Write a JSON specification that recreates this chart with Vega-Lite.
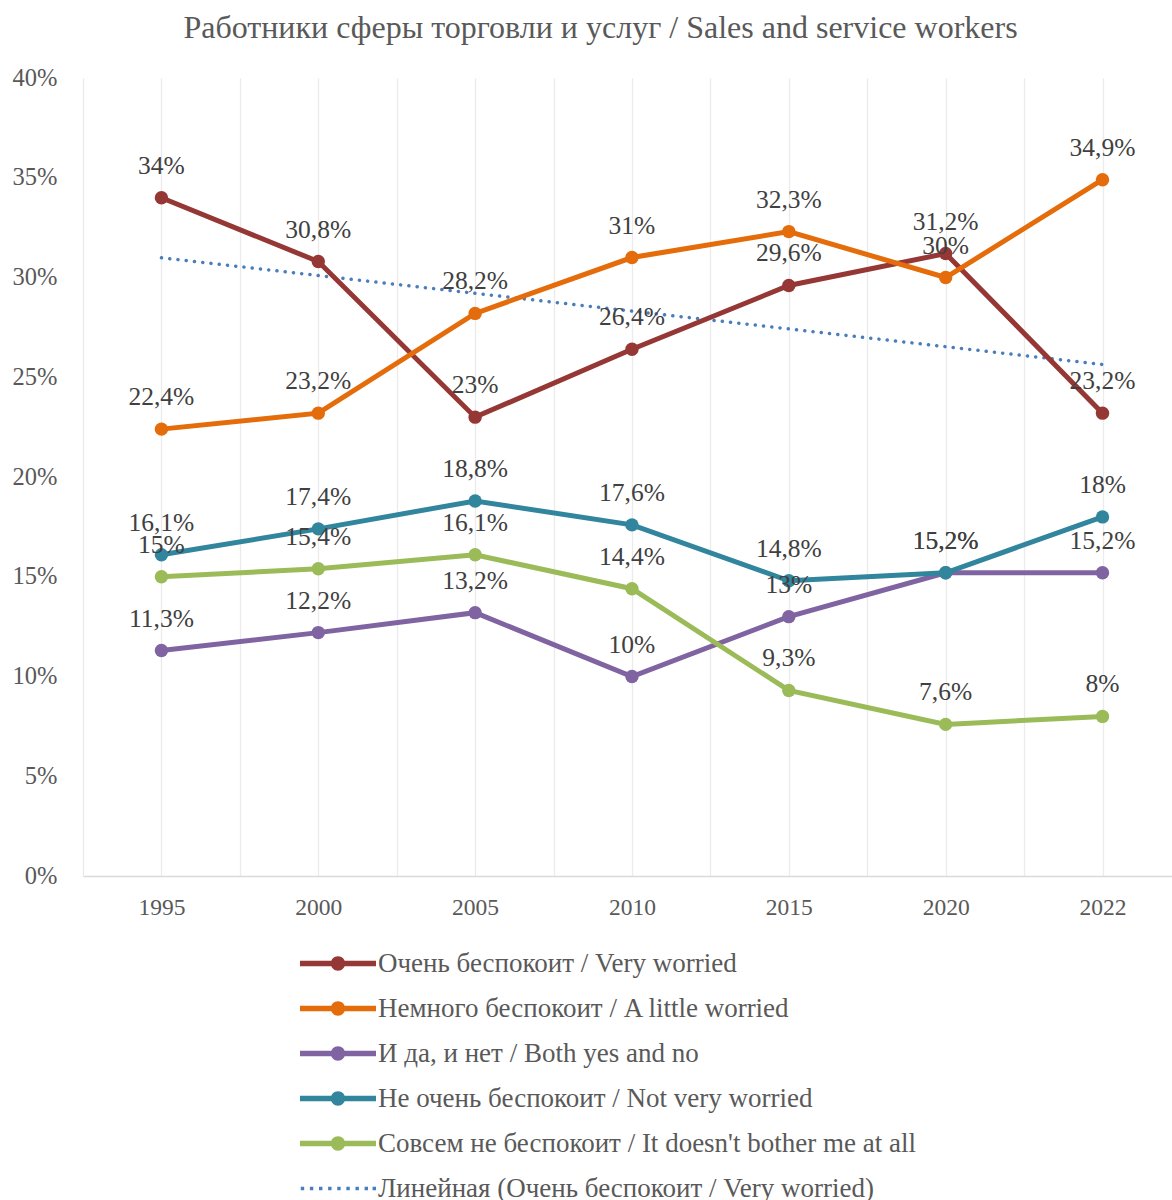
{
  "$schema": "https://vega.github.io/schema/vega-lite/v6.json",
  "autosize": "none",
  "width": 1089,
  "height": 798,
  "padding": {"left": 83, "top": 78, "right": 0, "bottom": 324},
  "background": "white",
  "config": {
    "locale": {"number": {"decimal": ",", "thousands": " ", "grouping": [3], "currency": ["", ""]}},
    "view": {"stroke": null},
    "font": "Liberation Serif"
  },
  "title": {
    "text": "Работники сферы торговли и услуг / Sales and service workers",
    "font": "Liberation Serif",
    "fontSize": 32,
    "fontWeight": "normal",
    "color": "#595959",
    "anchor": "middle",
    "frame": "group",
    "dx": -27,
    "offset": 20
  },
  "datasets": {
    "main": [
      {"year": "1995", "i": 0, "series": "Очень беспокоит / Very worried", "value": 0.34},
      {"year": "2000", "i": 1, "series": "Очень беспокоит / Very worried", "value": 0.308},
      {"year": "2005", "i": 2, "series": "Очень беспокоит / Very worried", "value": 0.23},
      {"year": "2010", "i": 3, "series": "Очень беспокоит / Very worried", "value": 0.264},
      {"year": "2015", "i": 4, "series": "Очень беспокоит / Very worried", "value": 0.296},
      {"year": "2020", "i": 5, "series": "Очень беспокоит / Very worried", "value": 0.312},
      {"year": "2022", "i": 6, "series": "Очень беспокоит / Very worried", "value": 0.232},
      {"year": "1995", "i": 0, "series": "Немного беспокоит / A little worried", "value": 0.224},
      {"year": "2000", "i": 1, "series": "Немного беспокоит / A little worried", "value": 0.232},
      {"year": "2005", "i": 2, "series": "Немного беспокоит / A little worried", "value": 0.282},
      {"year": "2010", "i": 3, "series": "Немного беспокоит / A little worried", "value": 0.31},
      {"year": "2015", "i": 4, "series": "Немного беспокоит / A little worried", "value": 0.323},
      {"year": "2020", "i": 5, "series": "Немного беспокоит / A little worried", "value": 0.30},
      {"year": "2022", "i": 6, "series": "Немного беспокоит / A little worried", "value": 0.349},
      {"year": "1995", "i": 0, "series": "И да, и нет / Both yes and no", "value": 0.113},
      {"year": "2000", "i": 1, "series": "И да, и нет / Both yes and no", "value": 0.122},
      {"year": "2005", "i": 2, "series": "И да, и нет / Both yes and no", "value": 0.132},
      {"year": "2010", "i": 3, "series": "И да, и нет / Both yes and no", "value": 0.10},
      {"year": "2015", "i": 4, "series": "И да, и нет / Both yes and no", "value": 0.13},
      {"year": "2020", "i": 5, "series": "И да, и нет / Both yes and no", "value": 0.152},
      {"year": "2022", "i": 6, "series": "И да, и нет / Both yes and no", "value": 0.152},
      {"year": "1995", "i": 0, "series": "Не очень беспокоит / Not very worried", "value": 0.161},
      {"year": "2000", "i": 1, "series": "Не очень беспокоит / Not very worried", "value": 0.174},
      {"year": "2005", "i": 2, "series": "Не очень беспокоит / Not very worried", "value": 0.188},
      {"year": "2010", "i": 3, "series": "Не очень беспокоит / Not very worried", "value": 0.176},
      {"year": "2015", "i": 4, "series": "Не очень беспокоит / Not very worried", "value": 0.148},
      {"year": "2020", "i": 5, "series": "Не очень беспокоит / Not very worried", "value": 0.152},
      {"year": "2022", "i": 6, "series": "Не очень беспокоит / Not very worried", "value": 0.18},
      {"year": "1995", "i": 0, "series": "Совсем не беспокоит / It doesn't bother me at all", "value": 0.15},
      {"year": "2000", "i": 1, "series": "Совсем не беспокоит / It doesn't bother me at all", "value": 0.154},
      {"year": "2005", "i": 2, "series": "Совсем не беспокоит / It doesn't bother me at all", "value": 0.161},
      {"year": "2010", "i": 3, "series": "Совсем не беспокоит / It doesn't bother me at all", "value": 0.144},
      {"year": "2015", "i": 4, "series": "Совсем не беспокоит / It doesn't bother me at all", "value": 0.093},
      {"year": "2020", "i": 5, "series": "Совсем не беспокоит / It doesn't bother me at all", "value": 0.076},
      {"year": "2022", "i": 6, "series": "Совсем не беспокоит / It doesn't bother me at all", "value": 0.08}
    ],
    "trend": [
      {"year": "1995", "i": 0, "series": "Линейная (Очень беспокоит / Very worried)", "value": 0.3099},
      {"year": "2022", "i": 6, "series": "Линейная (Очень беспокоит / Very worried)", "value": 0.2564}
    ]
  },
  "encoding": {
    "x": {
      "field": "i",
      "type": "quantitative",
      "scale": {"domain": [-0.5, 6.443], "nice": false, "zero": false},
      "axis": {
        "title": null,
        "values": [-0.5, 0, 0.5, 1, 1.5, 2, 2.5, 3, 3.5, 4, 4.5, 5, 5.5, 6],
        "labelExpr": "datum.value % 1 === 0 ? ['1995','2000','2005','2010','2015','2020','2022'][datum.value] : ''",
        "grid": true,
        "gridColor": "#ebebeb",
        "gridWidth": 1.3,
        "ticks": false,
        "domainColor": "#d9d9d9",
        "domainWidth": 1.5,
        "labelFont": "Liberation Serif",
        "labelFontSize": 23.5,
        "labelColor": "#595959",
        "labelPadding": 19,
        "labelFlush": false,
        "labelOverlap": false
      }
    },
    "y": {
      "field": "value",
      "type": "quantitative",
      "scale": {"domain": [0, 0.4], "nice": false},
      "axis": {
        "title": null,
        "values": [0, 0.05, 0.1, 0.15, 0.2, 0.25, 0.3, 0.35, 0.4],
        "format": ".0%",
        "grid": false,
        "ticks": false,
        "domain": false,
        "labelFont": "Liberation Serif",
        "labelFontSize": 24.5,
        "labelColor": "#595959",
        "labelPadding": 26
      }
    },
    "color": {
      "field": "series",
      "type": "nominal",
      "scale": {
        "domain": [
          "Очень беспокоит / Very worried",
          "Немного беспокоит / A little worried",
          "И да, и нет / Both yes and no",
          "Не очень беспокоит / Not very worried",
          "Совсем не беспокоит / It doesn't bother me at all",
          "Линейная (Очень беспокоит / Very worried)"
        ],
        "range": ["#953735", "#E46C0A", "#8064A2", "#31859C", "#9BBB59", "#4A7EBB"]
      },
      "legend": {
        "title": null,
        "orient": "none",
        "legendX": 217,
        "legendY": 863,
        "direction": "vertical",
        "labelFont": "Liberation Serif",
        "labelFontSize": 27,
        "labelColor": "#595959",
        "labelLimit": 800,
        "symbolSize": 5776,
        "symbolStrokeWidth": 0,
        "rowPadding": 0,
        "clipHeight": 45,
        "labelOffset": 2,
        "encode": {
          "symbols": {
            "update": {
              "shape": {"signal": "datum.value === 'Линейная (Очень беспокоит / Very worried)' ? 'M-0.98,-0.045h0.09v0.09h-0.09Z M-0.74,-0.045h0.09v0.09h-0.09Z M-0.5,-0.045h0.09v0.09h-0.09Z M-0.26,-0.045h0.09v0.09h-0.09Z M-0.02,-0.045h0.09v0.09h-0.09Z M0.22,-0.045h0.09v0.09h-0.09Z M0.46,-0.045h0.09v0.09h-0.09Z M0.7,-0.045h0.09v0.09h-0.09Z M0.91,-0.045h0.09v0.09h-0.09Z' : 'M-1,-0.075L1,-0.075L1,0.075L-1,0.075Z M0.19,0A0.19,0.19,0,1,1,-0.19,0A0.19,0.19,0,1,1,0.19,0Z'"},
              "fill": {"scale": "color", "field": "value"},
              "strokeWidth": {"value": 0},
              "opacity": {"value": 1}
            }
          }
        }
      }
    }
  },
  "layer": [
    {
      "data": {"name": "trend"},
      "mark": {"type": "line", "strokeWidth": 3.5, "strokeDash": [0.1, 8.2], "strokeCap": "round"}
    },
    {
      "data": {"name": "main"},
      "mark": {"type": "line", "strokeWidth": 5},
      "encoding": {"detail": {"field": "series"}}
    },
    {
      "data": {"name": "main"},
      "mark": {"type": "point", "filled": true, "size": 180, "opacity": 1, "shape": "circle"}
    },
    {
      "data": {"name": "main"},
      "mark": {"type": "text", "font": "Liberation Serif", "fontSize": 25.5, "color": "#404040", "dy": -32, "baseline": "middle", "align": "center"},
      "encoding": {
        "text": {"field": "value", "type": "quantitative", "format": ".1~%"},
        "color": {"value": "#404040"}
      }
    }
  ]
}
